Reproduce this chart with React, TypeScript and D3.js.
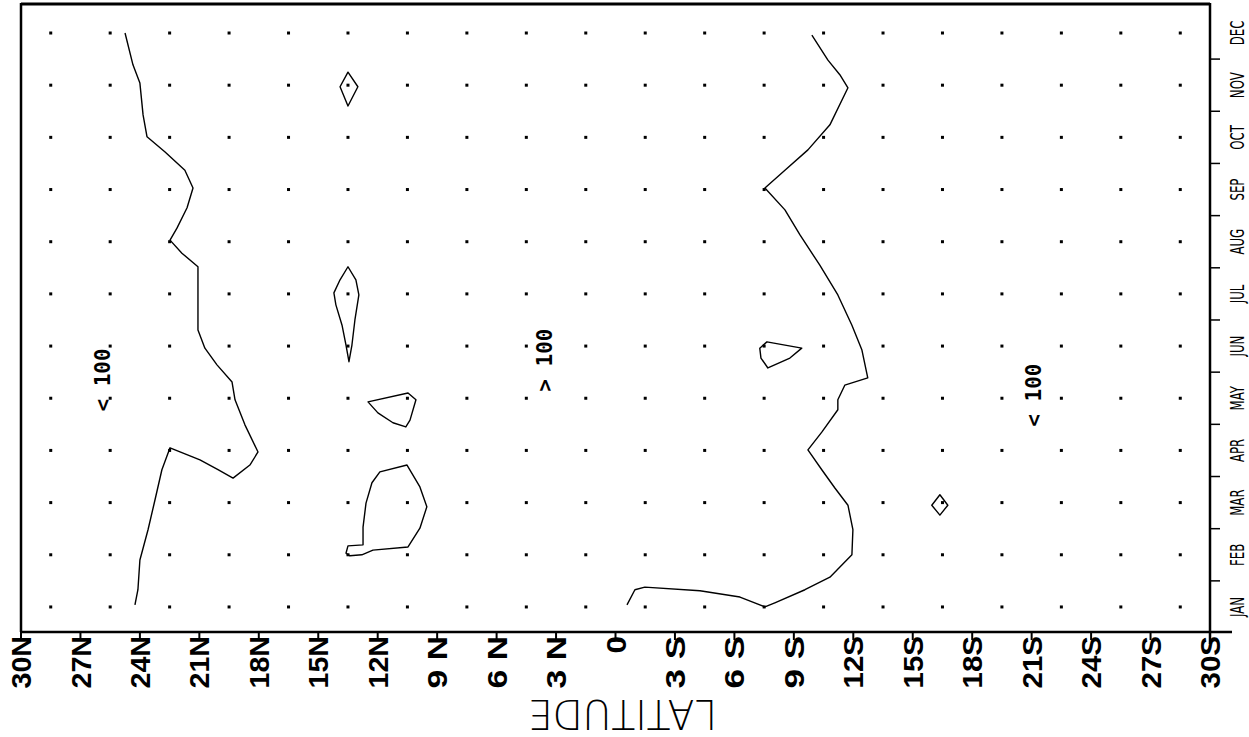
import React, { useEffect, useRef } from 'react';
import * as d3 from 'd3';

// month rows (0 = JAN ... 11 = DEC)
const months = ['JAN', 'FEB', 'MAR', 'APR', 'MAY', 'JUN', 'JUL', 'AUG', 'SEP', 'OCT', 'NOV', 'DEC'];

// latitude ticks, north positive
const latTicks = [30, 27, 24, 21, 18, 15, 12, 9, 6, 3, 0, -3, -6, -9, -12, -15, -18, -21, -24, -27, -30];
const latLabels = ['30N', '27N', '24N', '21N', '18N', '15N', '12N', '9 N', '6 N', '3 N', '0',
  '3 S', '6 S', '9 S', '12S', '15S', '18S', '21S', '24S', '27S', '30S'];

// data grid columns
const gridLats = [28.5, 25.5, 22.5, 19.5, 16.5, 13.5, 10.5, 7.5, 4.5, 1.5,
  -1.5, -4.5, -7.5, -10.5, -13.5, -16.5, -19.5, -22.5, -25.5, -28.5];

// 100 contour, northern edge  [lat, month]
const northEdge = [
  [24.75, 11.0], [24.35, 10.39], [24.0, 10.04], [23.84, 9.43], [23.64, 9.01], [22.73, 8.72],
  [21.73, 8.37], [21.32, 8.03], [21.62, 7.65], [22.13, 7.26], [22.48, 7.03], [21.88, 6.78],
  [21.07, 6.52], [21.07, 5.88], [21.07, 5.31], [20.72, 4.96], [20.11, 4.64], [19.35, 4.31],
  [19.2, 3.97], [18.7, 3.49], [18.04, 2.97], [18.45, 2.72], [19.3, 2.47], [20.06, 2.63],
  [20.97, 2.82], [22.48, 3.05], [22.89, 2.63], [23.24, 2.05], [23.59, 1.48], [24.0, 0.9],
  [24.1, 0.33], [24.25, 0.04],
];

// 100 contour, southern edge
const southEdge = [
  [-0.58, 0.04], [-0.98, 0.33], [-1.48, 0.38], [-4.26, 0.31], [-6.28, 0.19], [-7.54, 0.0],
  [-8.04, 0.08], [-9.56, 0.33], [-10.82, 0.57], [-11.93, 1.0], [-11.98, 1.48], [-11.73, 1.95],
  [-11.07, 2.28], [-10.41, 2.63], [-9.71, 3.01], [-10.41, 3.35], [-11.22, 3.78], [-11.22, 3.97],
  [-11.57, 4.25], [-12.73, 4.39], [-12.43, 4.93], [-11.93, 5.4], [-11.22, 5.98], [-10.31, 6.55],
  [-9.31, 7.13], [-8.55, 7.61], [-7.54, 8.03], [-8.55, 8.37], [-9.71, 8.76], [-10.82, 9.24],
  [-11.73, 9.95], [-11.32, 10.2], [-10.72, 10.48], [-9.91, 10.96],
];

// small closed 100 contours
const islands = [
  [[13.5, 10.25], [13.0, 9.97], [13.5, 9.6], [13.9, 9.97]],
  [[13.5, 6.52], [13.1, 6.27], [12.95, 5.98], [13.15, 5.5], [13.3, 5.02], [13.45, 4.7],
    [13.6, 5.02], [13.8, 5.4], [14.11, 5.79], [14.21, 6.02], [13.9, 6.27]],
  [[12.49, 3.93], [10.47, 4.1], [10.07, 3.97], [10.37, 3.58], [10.58, 3.45], [11.23, 3.53], [11.99, 3.72]],
  [[10.52, 2.72], [11.89, 2.59], [12.29, 2.38], [12.59, 1.99], [12.74, 1.53], [12.74, 1.19],
    [13.5, 1.17], [13.6, 1.03], [13.4, 0.98], [12.8, 1.0], [12.24, 1.09], [10.47, 1.15],
    [9.87, 1.51], [9.52, 1.92], [9.87, 2.3]],
  [[-7.28, 4.96], [-7.64, 5.08], [-9.4, 4.96], [-8.8, 4.77], [-7.69, 4.58], [-7.34, 4.77]],
  [[-16.37, 2.15], [-16.77, 1.95], [-16.37, 1.76], [-15.96, 1.95]],
];

// region labels
const regionLabels = [
  { text: '< 100', lat: 25.9, month: 4.35 },
  { text: '> 100', lat: 3.6, month: 4.73 },
  { text: '< 100', lat: -21.1, month: 4.06 },
];

const W = 1249;
const H = 737;

const App = () => {
  const ref = useRef(null);

  useEffect(() => {
    const svg = d3.select(ref.current);
    svg.selectAll('*').remove();

    const x = d3.scaleLinear().domain([30, -30]).range([21, 1210]);
    const y = d3.scaleLinear().domain([-0.48, 11.575]).range([632, 3]);

    const line = d3.line()
      .x(d => x(d[0]))
      .y(d => y(d[1]));
    const ring = d3.line()
      .x(d => x(d[0]))
      .y(d => y(d[1]))
      .curve(d3.curveLinearClosed);

    // frame
    const top = y(11.575), bottom = y(-0.48);
    svg.append('line').attr('x1', x(30)).attr('x2', x(-30)).attr('y1', top + 1).attr('y2', top + 1)
      .attr('stroke', '#000').attr('stroke-width', 3);
    svg.append('line').attr('x1', x(30)).attr('x2', x(30)).attr('y1', top).attr('y2', bottom)
      .attr('stroke', '#000').attr('stroke-width', 2.5);
    svg.append('line').attr('x1', x(30)).attr('x2', x(-30) + 22).attr('y1', bottom).attr('y2', bottom)
      .attr('stroke', '#000').attr('stroke-width', 2.5);
    svg.append('line').attr('x1', x(-30)).attr('x2', x(-30)).attr('y1', top).attr('y2', bottom + 12)
      .attr('stroke', '#000').attr('stroke-width', 2.5);

    // bottom ticks + labels
    const bx = svg.append('g');
    bx.selectAll('line').data(latTicks).join('line')
      .attr('x1', d => x(d)).attr('x2', d => x(d))
      .attr('y1', bottom).attr('y2', bottom + 8)
      .attr('stroke', '#000').attr('stroke-width', 2);
    bx.selectAll('text').data(latTicks).join('text')
      .attr('transform', d => `translate(${x(d)},${bottom + 4}) rotate(-90)`)
      .attr('text-anchor', 'end')
      .attr('dy', '0.36em')
      .attr('font-family', 'Liberation Sans')
      .attr('font-weight', 'bold')
      .attr('font-size', 28)
      .attr('textLength', (d, i) => latLabels[i].length * 17.5)
      .attr('lengthAdjust', 'spacingAndGlyphs')
      .text((d, i) => latLabels[i]);

    // right month axis
    const ry = svg.append('g');
    ry.selectAll('line').data(d3.range(0, 11).map(i => i + 0.5)).join('line')
      .attr('x1', x(-30)).attr('x2', x(-30) + 10)
      .attr('y1', d => y(d)).attr('y2', d => y(d))
      .attr('stroke', '#000').attr('stroke-width', 1.5);
    ry.selectAll('text').data(months).join('text')
      .attr('transform', (d, i) => `translate(${x(-30) + 27},${y(i)}) rotate(-90) scale(0.62,1)`)
      .attr('text-anchor', 'middle')
      .attr('dy', '0.36em')
      .attr('font-family', 'DejaVu Sans')
      .attr('font-size', 19)
      .text(d => d);

    // axis title, upside down
    svg.append('text')
      .attr('transform', `translate(${x(-0.35)},715) rotate(180)`)
      .attr('text-anchor', 'middle')
      .attr('dy', '0.365em')
      .attr('font-family', 'DejaVu Sans')
      .attr('font-weight', 300)
      .attr('font-size', 41)
      .attr('textLength', 189)
      .attr('lengthAdjust', 'spacingAndGlyphs')
      .text('LATITUDE');

    // grid dots
    const pts = [];
    months.forEach((m, i) => gridLats.forEach(l => pts.push([l, i])));
    svg.append('g').selectAll('rect').data(pts).join('rect')
      .attr('x', d => x(d[0]) - 1.5).attr('y', d => y(d[1]) - 1.5)
      .attr('width', 3).attr('height', 3).attr('fill', '#000');

    // contours
    const cg = svg.append('g').attr('fill', 'none').attr('stroke', '#000').attr('stroke-width', 1.4)
      .attr('stroke-linejoin', 'round');
    cg.append('path').attr('d', line(northEdge));
    cg.append('path').attr('d', line(southEdge));
    islands.forEach(p => cg.append('path').attr('d', ring(p)));

    // region labels
    svg.append('g').selectAll('text').data(regionLabels).join('text')
      .attr('transform', d => `translate(${x(d.lat)},${y(d.month)}) rotate(-90)`)
      .attr('text-anchor', 'middle')
      .attr('dy', '0.36em')
      .attr('font-family', 'DejaVu Sans Mono')
      .attr('font-weight', 'bold')
      .attr('font-size', 21)
      .text(d => d.text);
  }, []);

  return (
    <svg ref={ref} width={W} height={H}
      style={{ position: 'absolute', left: 0, top: 0, background: '#fff' }} />
  );
};

export default App;
